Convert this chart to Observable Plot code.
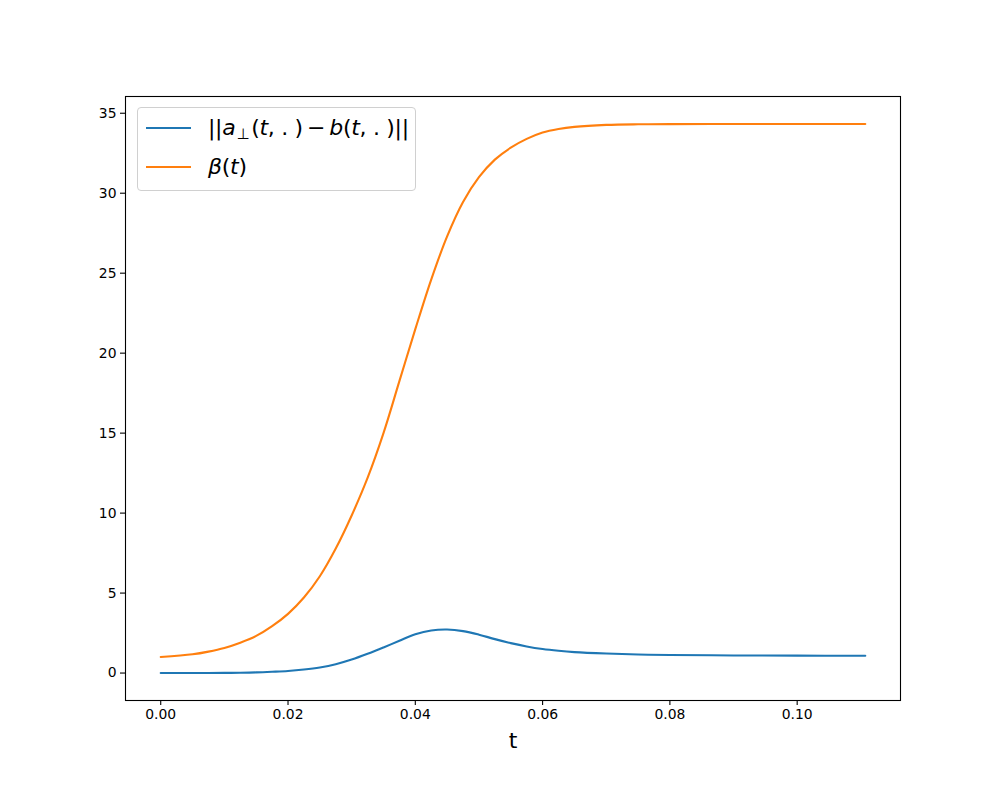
<!DOCTYPE html>
<html>
<head>
<meta charset="utf-8">
<script src="https://cdn.jsdelivr.net/npm/d3@7"></script>
<script src="https://cdn.jsdelivr.net/npm/@observablehq/plot@0.6"></script>
<style>
  html, body { margin: 0; padding: 0; background: #fff; }
  #wrap { position: relative; width: 1000px; height: 800px; font-family: "DejaVu Sans", sans-serif; }
  #legend { position: absolute; left: 137px; top: 107px; width: 277px; height: 82px;
    border: 1px solid #d0d0d0; border-radius: 4px; background: rgba(255,255,255,0.8); }
  .item { position: absolute; left: 0; height: 30px; width: 100%; }
  .sw { position: absolute; left: 8px; width: 45px; height: 2px; top: 14px; }
  .lab { position: absolute; left: 70px; top: 0; font-size: 22px; line-height: 30px; white-space: nowrap; color: #000; letter-spacing: -0.3px; }
  .lab i { font-style: oblique; }
  .lab sub { font-size: 15px; vertical-align: -4px; line-height: 0; margin: 0 2px 0 1px; }
</style>
</head>
<body>
<div id="wrap"></div>
<script>
// Data
const tValues = [0, 0.005, 0.0075, 0.01, 0.0125, 0.015, 0.0175, 0.02, 0.0225, 0.025, 0.0275, 0.03, 0.0325, 0.035, 0.0375, 0.04, 0.0425, 0.045, 0.0475, 0.05, 0.0525, 0.055, 0.0575, 0.06, 0.0625, 0.065, 0.07, 0.075, 0.08, 0.09, 0.1, 0.1107];
const normDiff = [0, 0.0, 0.005, 0.01, 0.02, 0.04, 0.08, 0.13, 0.22, 0.35, 0.55, 0.84, 1.2, 1.6, 2.02, 2.42, 2.66, 2.72, 2.62, 2.4, 2.12, 1.87, 1.66, 1.5, 1.39, 1.31, 1.22, 1.16, 1.13, 1.1, 1.09, 1.08];
const beta = [1.0, 1.17, 1.34, 1.57, 1.9, 2.32, 2.93, 3.7, 4.72, 6.05, 7.78, 9.85, 12.2, 15.0, 18.25, 21.5, 24.6, 27.3, 29.45, 31.0, 32.1, 32.85, 33.4, 33.8, 34.02, 34.15, 34.27, 34.31, 34.32, 34.33, 34.33, 34.33];
const seriesNames = ["norm", "beta"];
const seriesLabels = [
  "||<i>a</i><sub>⊥</sub>(<i>t</i>, . )\u2009−\u2009<i>b</i>(<i>t</i>, . )||",
  "<i>β</i>(<i>t</i>)"
];
const seriesColors = ["#1f77b4", "#ff7f0e"];
const xTicks = [0, 0.02, 0.04, 0.06, 0.08, 0.10];
const yTicks = [0, 5, 10, 15, 20, 25, 30, 35];
const xLabel = "t";

const rows = [];
[normDiff, beta].forEach((vals, s) => {
  tValues.forEach((t, i) => rows.push({t, v: vals[i], s: seriesNames[s]}));
});

const xMin = d3.min(tValues), xMax = d3.max(tValues);
const yMin = Math.min(d3.min(normDiff), d3.min(beta)), yMax = Math.max(d3.max(normDiff), d3.max(beta));
const xPad = (xMax - xMin) * 0.05, yPad = (yMax - yMin) * 0.05;

const chart = Plot.plot({
  width: 1000,
  height: 800,
  marginLeft: 125,
  marginRight: 100,
  marginTop: 96,
  marginBottom: 100,
  style: { fontFamily: "DejaVu Sans, sans-serif", fontSize: "13.9px", color: "#000", background: "#fff" },
  x: { domain: [xMin - xPad, xMax + xPad] },
  y: { domain: [yMin - yPad, yMax + yPad] },
  color: { domain: seriesNames, range: seriesColors },
  marks: [
    Plot.axisX({ ticks: xTicks, tickFormat: d3.format(".2f"), tickSize: 5, tickPadding: 4, label: null, stroke: "#000", strokeWidth: 1.1 }),
    Plot.axisY({ ticks: yTicks, tickFormat: d3.format("d"), tickSize: 5, tickPadding: 4, label: null, stroke: "#000", strokeWidth: 1.1 }),
    Plot.line(rows, { x: "t", y: "v", z: "s", stroke: "s", strokeWidth: 2.1, curve: "catmull-rom" }),
    Plot.frame({ stroke: "#000", strokeWidth: 1.1 }),
    Plot.text([xLabel], { frameAnchor: "bottom", dy: 40, fontSize: 22, lineAnchor: "middle", fill: "#000" })
  ]
});

const wrap = document.getElementById("wrap");
wrap.appendChild(chart);

const legend = document.createElement("div");
legend.id = "legend";
seriesLabels.forEach((lab, i) => {
  const item = document.createElement("div");
  item.className = "item";
  item.style.top = (5 + i * 39) + "px";
  const sw = document.createElement("div");
  sw.className = "sw";
  sw.style.background = seriesColors[i];
  const tx = document.createElement("div");
  tx.className = "lab";
  tx.innerHTML = lab;
  item.appendChild(sw);
  item.appendChild(tx);
  legend.appendChild(item);
});
wrap.appendChild(legend);
</script>
</body>
</html>
